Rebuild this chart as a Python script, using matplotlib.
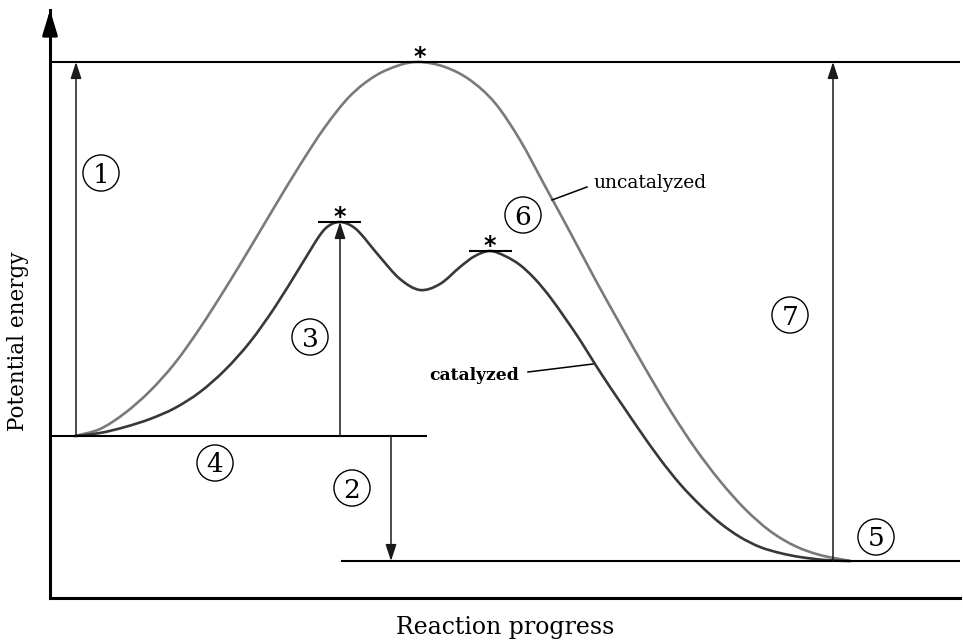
import matplotlib
matplotlib.use("Agg")
import matplotlib.pyplot as plt
from matplotlib.path import Path
from matplotlib.patches import PathPatch

# reaction coordinate / energy (arbitrary units)
prog_uncat = [25, 50, 75, 100, 125, 150, 175, 200, 225, 250, 275, 300, 325, 350, 370,
              395, 420, 445, 470, 495, 520, 545, 570, 595, 620, 645, 670, 695, 720,
              745, 770, 800]
energy_uncat = [162, 169, 185, 207, 235, 270, 309, 350, 392, 433, 471, 502, 522, 533, 536,
                531, 518, 495, 458, 412, 366, 319, 274, 230, 188, 150, 117, 89, 67,
                52, 43, 37]

prog_cat = [25, 50, 75, 100, 125, 150, 175, 200, 225, 250, 270, 280, 290, 300, 310, 330,
            350, 370, 390, 410, 425, 440, 455, 470, 485, 500, 515, 530, 545, 560, 575,
            590, 610, 630, 650, 670, 690, 710, 730, 750, 775, 800]
energy_cat = [162, 165, 171, 179, 190, 206, 228, 256, 291, 331, 363, 373, 376, 373, 365, 341,
              319, 308, 314, 331, 342, 347, 342, 333, 319, 301, 280, 258, 234, 211, 189,
              167, 139, 114, 93, 75, 61, 51, 45, 41, 38, 37]

E_react = 162
E_prod = 37
E_ts_uncat = 536
E_ts1 = 376
E_ts2 = 347
x_ts1 = 290
x_ts2 = 440
x_ts_uncat = 370

num_labels = ['1', '2', '3', '4', '5', '6', '7']


def smooth_path(xs, ys):
    # bezier segments through the read points (catmull-rom handles)
    pts = list(zip(xs, ys))
    verts = [pts[0]]
    codes = [Path.MOVETO]
    n = len(pts)
    for i in range(n - 1):
        p0 = pts[max(i - 1, 0)]
        p1 = pts[i]
        p2 = pts[i + 1]
        p3 = pts[min(i + 2, n - 1)]
        c1 = (p1[0] + (p2[0] - p0[0]) / 6, p1[1] + (p2[1] - p0[1]) / 6)
        c2 = (p2[0] - (p3[0] - p1[0]) / 6, p2[1] - (p3[1] - p1[1]) / 6)
        verts += [c1, c2, p2]
        codes += [Path.CURVE4] * 3
    return Path(verts, codes)


plt.rcParams['font.family'] = ['DejaVu Serif', 'DejaVu Sans']

fig = plt.figure(figsize=(9.63, 6.41), dpi=100)
ax = fig.add_axes([50 / 963, 43 / 641, 910 / 963, 588 / 641])
ax.set_xlim(0, 910)
ax.set_ylim(0, 588)
ax.set_xticks([])
ax.set_yticks([])
for s in ['top', 'right']:
    ax.spines[s].set_visible(False)
for s in ['left', 'bottom']:
    ax.spines[s].set_linewidth(2.2)
    ax.spines[s].set_color('black')

# arrow head on the energy axis
ax.annotate('', xy=(0, 1.0), xytext=(0, 0.96), xycoords='axes fraction',
            arrowprops=dict(arrowstyle='-|>,head_length=1.25,head_width=0.38',
                            mutation_scale=12, lw=2.2, color='black',
                            shrinkA=0, shrinkB=0),
            annotation_clip=False)

# energy levels
lvl = dict(color='black', lw=1.5, solid_capstyle='butt')
ax.plot([0, 910], [E_ts_uncat, E_ts_uncat], **lvl)
ax.plot([0, 377], [E_react, E_react], **lvl)
ax.plot([291, 910], [E_prod, E_prod], **lvl)
ax.plot([x_ts1 - 22, x_ts1 + 21], [E_ts1, E_ts1], **lvl)
ax.plot([x_ts2 - 21, x_ts2 + 22], [E_ts2, E_ts2], **lvl)

# curves
ax.add_patch(PathPatch(smooth_path(prog_uncat, energy_uncat), fill=False,
                       edgecolor='#7a7a7a', lw=1.9, capstyle='round'))
ax.add_patch(PathPatch(smooth_path(prog_cat, energy_cat), fill=False,
                       edgecolor='#383838', lw=1.9, capstyle='round'))

# asterisks
for xs, ys in [(x_ts_uncat, E_ts_uncat), (x_ts1, E_ts1), (x_ts2, E_ts2)]:
    ax.text(xs, ys - 2, '*', ha='center', va='baseline', fontsize=17,
            fontweight='bold', family='DejaVu Sans')

# vertical arrows
arr = dict(arrowstyle='-|>,head_length=1.0,head_width=0.33', mutation_scale=10,
           lw=1.1, color='#1a1a1a', shrinkA=0, shrinkB=0)
ax.annotate('', xy=(26, E_ts_uncat), xytext=(26, E_react), arrowprops=arr)
ax.annotate('', xy=(x_ts1, E_ts1), xytext=(x_ts1, E_react), arrowprops=arr)
ax.annotate('', xy=(341, E_prod), xytext=(341, E_react), arrowprops=arr)
ax.annotate('', xy=(783, E_ts_uncat), xytext=(783, E_prod), arrowprops=arr)

# circled numbers
num_pos = [(51, 425), (302, 110), (260, 261), (165, 135), (826, 61), (473, 383), (740, 283)]
for lab, (xn, yn) in zip(num_labels, num_pos):
    ax.scatter([xn], [yn], s=26 ** 2, facecolors='none', edgecolors='black',
               linewidths=1.0, zorder=3)
    ax.text(xn, yn - 2, lab, ha='center', va='center', fontsize=19)

# curve labels
ax.plot([502, 537], [398, 411], color='black', lw=1.1)
ax.text(544, 415, 'uncatalyzed', ha='left', va='center', fontsize=13.5)
ax.plot([478, 543], [226, 234], color='black', lw=1.1)
ax.text(469, 223, 'catalyzed', ha='right', va='center', fontsize=12.3, fontweight='bold')

ax.set_xlabel('Reaction progress', fontsize=17, labelpad=13)
ax.set_ylabel('Potential energy', fontsize=15.5)
ax.yaxis.set_label_coords(-0.023, 0.437)

fig.savefig('out.png', dpi=100)
